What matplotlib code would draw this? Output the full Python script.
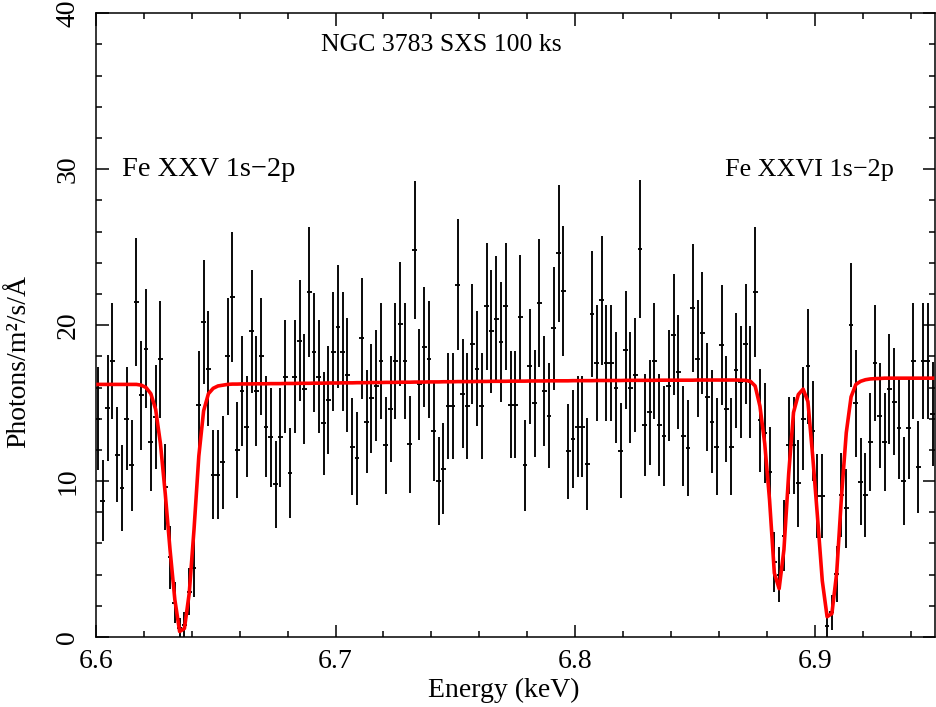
import numpy as np
import matplotlib
matplotlib.use('Agg')
from matplotlib import pyplot as plt
from matplotlib.ticker import MultipleLocator

plt.rcParams['font.family'] = ['Liberation Serif', 'DejaVu Serif']

# ---谱数据: bin 起点 6.601 keV, 宽 0.002 keV---
e_start = 6.601
e_bin = 0.002

flux = [
    14.0, 8.75, 14.7, 17.7, 11.7, 9.55, 14.0, 11.0, 21.5, 15.5,
    18.5, 12.5, 14.1, 17.8, 9.6, 5.1, 2.2, 0.55, 0.8, 2.9,
    4.4, 14.9, 20.2, 17.2, 10.4, 10.4, 11.2, 18.0, 21.8, 12.0,
    15.8, 13.5, 19.6, 15.8, 18.0, 13.5, 12.8, 9.8, 12.8, 16.7,
    10.5, 16.7, 19.0, 15.9, 22.1, 18.25, 16.7, 13.7, 15.2, 18.3,
    19.9, 18.3, 16.8, 12.2, 11.45, 19.15, 13.8, 15.3, 16.1, 17.7,
    12.3, 14.6, 17.7, 20.1, 17.7, 12.35, 24.8, 16.2, 18.6, 17.8,
    13.2, 10.0, 10.8, 14.8, 14.8, 22.6, 15.6, 14.8, 18.8, 17.2,
    14.8, 21.2, 19.6, 20.4, 18.9, 21.2, 14.9, 14.9, 20.5, 11.0,
    17.35, 15.0, 21.4, 15.8, 14.2, 19.8, 24.6, 22.2, 11.9, 12.7,
    13.5, 13.5, 11.1, 20.7, 17.55, 21.6, 17.55, 17.55, 16.0, 11.96,
    18.4, 16.0, 16.8, 24.9, 13.6, 14.4, 17.7, 13.6, 12.9, 16.1,
    19.4, 17.0, 12.9, 12.1, 21.1, 17.85, 19.5, 15.4, 13.8, 12.2,
    18.75, 14.6, 12.2, 17.1, 16.35, 18.8, 16.35, 22.1, 13.9, 13.1,
    10.6, 4.8, 4.0, 6.5, 12.3, 12.3, 9.85, 14.0, 17.35, 13.2,
    9.05, 9.05, 0.7, 1.6, 4.05, 9.1, 8.25, 20.0, 15.0, 9.95,
    9.1, 12.5, 17.55, 14.2, 12.5, 15.9, 15.1, 13.4, 10.0, 13.4,
    17.7, 10.9, 17.7, 17.7, 14.3,
]

# 模型曲线 (红线), 每个 bin 中心一个值
model = [
    16.2, 16.2, 16.2, 16.2, 16.2, 16.2, 16.2, 16.2, 16.2, 16.15,
    16.0, 15.6, 14.6, 12.4, 9.2, 5.6, 2.4, 0.35, 0.55, 2.8,
    6.9, 11.6, 14.5, 15.6, 15.95, 16.1, 16.15, 16.2, 16.22, 16.22,
    16.23, 16.23, 16.23, 16.24, 16.24, 16.24, 16.25, 16.25, 16.25, 16.26,
    16.26, 16.26, 16.27, 16.27, 16.27, 16.28, 16.28, 16.28, 16.29, 16.29,
    16.29, 16.30, 16.30, 16.30, 16.31, 16.31, 16.31, 16.32, 16.32, 16.32,
    16.33, 16.33, 16.33, 16.34, 16.34, 16.34, 16.35, 16.35, 16.35, 16.36,
    16.36, 16.36, 16.37, 16.37, 16.37, 16.38, 16.38, 16.38, 16.38, 16.39,
    16.39, 16.39, 16.40, 16.40, 16.40, 16.40, 16.41, 16.41, 16.41, 16.41,
    16.42, 16.42, 16.42, 16.42, 16.43, 16.43, 16.43, 16.43, 16.43, 16.44,
    16.44, 16.44, 16.44, 16.44, 16.45, 16.45, 16.45, 16.45, 16.45, 16.45,
    16.46, 16.46, 16.46, 16.46, 16.46, 16.46, 16.46, 16.47, 16.47, 16.47,
    16.47, 16.47, 16.47, 16.47, 16.47, 16.48, 16.48, 16.48, 16.48, 16.48,
    16.48, 16.48, 16.48, 16.48, 16.47, 16.46, 16.4, 16.1, 14.8, 12.4,
    8.8, 4.1, 3.1, 5.6, 10.5, 14.4, 15.55, 15.9, 15.1, 11.6,
    7.7, 3.6, 1.3, 1.5, 4.1, 9.0, 13.1, 15.4, 16.2, 16.4,
    16.5, 16.55, 16.57, 16.58, 16.6, 16.6, 16.6, 16.6, 16.6, 16.6,
    16.6, 16.6, 16.6, 16.6, 16.6,
]

counts_scale = 1.27  # 泊松误差: err = sqrt(flux / counts_scale)

title_text = 'NGC 3783 SXS 100 ks'
line_labels = ['Fe XXV 1s\u22122p', 'Fe XXVI 1s\u22122p']
line_label_x = [6.6111, 6.8625]
line_label_size = [20.4, 18.8]
x_label = 'Energy (keV)'
y_label = 'Photons/m\u00b2/s/\u00c5'

flux = np.array(flux)
model = np.array(model)
energy = e_start + e_bin * np.arange(len(flux))
err = np.sqrt(np.clip(flux, 0, None) / counts_scale)

fig = plt.figure(figsize=(9.36, 7.07), dpi=100)
ax = fig.add_axes([95.7 / 936, 70 / 707, (935 - 95.7) / 936, (637 - 13.3) / 707])

ax.errorbar(energy, flux, yerr=err, xerr=e_bin / 2, fmt='none',
            ecolor='black', elinewidth=1.35, capsize=0, zorder=2)
ax.plot(energy, model, color='red', lw=2.6, zorder=3)

ax.set_xlim(6.6, 6.95)
ax.set_ylim(0, 40)
ax.xaxis.set_major_locator(MultipleLocator(0.1))
ax.xaxis.set_minor_locator(MultipleLocator(0.02))
ax.yaxis.set_major_locator(MultipleLocator(10))
ax.yaxis.set_minor_locator(MultipleLocator(2))
ax.tick_params(which='both', direction='in', top=True, right=True, width=1.1, labelsize=20)
ax.tick_params(which='major', length=9)
ax.tick_params(which='minor', length=4.5)
ax.tick_params(axis='x', pad=9)
ax.tick_params(axis='y', pad=11, labelrotation=90)
for lab in ax.get_yticklabels():
    lab.set_va('center')
for sp in ax.spines.values():
    sp.set_linewidth(1.1)

ax.text(6.694, 37.6, title_text, fontsize=18.5, va='baseline')
for lx, lt, fs in zip(line_label_x, line_labels, line_label_size):
    ax.text(lx, 29.55, lt, fontsize=fs, va='baseline')

fig.text(19 / 936, 1 - 361 / 707, y_label, rotation=90, ha='center', va='center', fontsize=20)
fig.text(504 / 936, 1 - 690 / 707, x_label, ha='center', va='center', fontsize=20)

fig.savefig('out.png', dpi=100)
